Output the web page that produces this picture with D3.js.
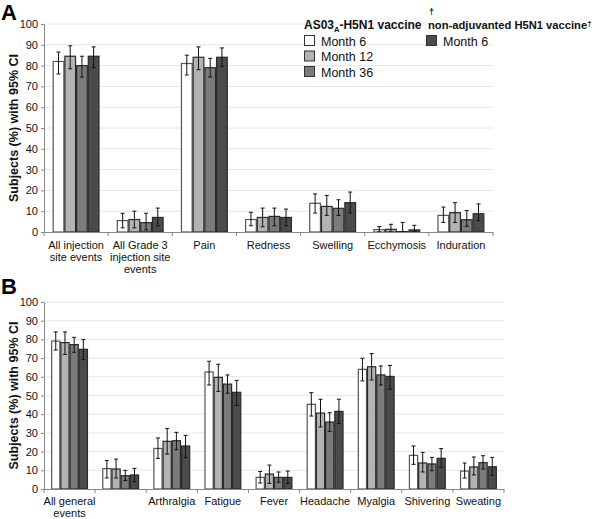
<!DOCTYPE html>
<html><head><meta charset="utf-8">
<script src="https://cdn.jsdelivr.net/npm/d3@7"></script>
<style>body{margin:0;background:#fff;} svg{display:block;font-family:"Liberation Sans",Arial,sans-serif;}</style>
</head><body>
<svg id="c" width="600" height="519"></svg>
<script>
const seriesNames = ["Month 6", "Month 12", "Month 36", "Month 6 (non-adjuvanted)"];
const seriesColors = ["#ffffff", "#b3b3b3", "#7b7b7b", "#4b4b4b"];
const yTicks = [0,10,20,30,40,50,60,70,80,90,100];

const catsA = [["All injection","site events"],["All Grade 3","injection site","events"],["Pain"],["Redness"],["Swelling"],["Ecchymosis"],["Induration"]];
const valA = [
  [82, 84.5, 80, 84.5],
  [5.5, 6, 4.5, 7],
  [81, 84, 79, 84],
  [6, 7, 7.5, 7],
  [13.8, 12.3, 11.4, 14.1],
  [1.1, 1.3, 0.2, 1],
  [8, 9.3, 5.9, 8.8]
];
const loA = [
  [76, 78.5, 74.5, 79],
  [2, 2, 1, 3],
  [75.5, 78, 74.5, 79.5],
  [3, 2.5, 3, 3],
  [9.1, 8, 8, 9.1],
  [0, 0, 0, 0],
  [4.6, 4.6, 2.7, 5.4]
];
const hiA = [
  [86.5, 89.5, 84.5, 89],
  [9, 10, 9, 11.5],
  [85, 89, 83.5, 88.5],
  [9.5, 11.5, 11.5, 11],
  [18.3, 17.6, 15.5, 19.2],
  [2.6, 3.7, 4.6, 3.2],
  [12, 14.1, 10.3, 13.5]
];

const catsB = [["All general","events"],[""],["Arthralgia"],["Fatigue"],["Fever"],["Headache"],["Myalgia"],["Shivering"],["Sweating"]];
const valB = [
  [79.1, 78.3, 77.2, 74.7],
  [10.9, 10.7, 7.1, 7.5],
  [21.7, 25.5, 25.8, 23],
  [62.6, 59.7, 56.1, 51.7],
  [6.2, 8, 6.2, 6.2],
  [45.3, 40.6, 35.8, 41.5],
  [64, 65.4, 61, 60.2],
  [18, 13.9, 13.4, 16.4],
  [9.6, 11.8, 14.1, 11.9]
];
const loB = [
  [74.3, 72, 73.1, 69.2],
  [5.9, 5.9, 4.6, 3.9],
  [16.4, 18.7, 21, 16.9],
  [55.6, 52.2, 51.2, 44.7],
  [3.2, 3, 3.6, 3],
  [39, 33.2, 30.8, 35],
  [57.8, 58.3, 55.6, 53.3],
  [13.2, 9.1, 9.8, 11.6],
  [5.9, 7.5, 10.7, 7.3]
];
const hiB = [
  [84, 84, 81.1, 79.9],
  [15.2, 16, 10, 11],
  [27.3, 32.4, 30.3, 28.7],
  [68.3, 66.7, 61, 58.1],
  [9.4, 12.8, 9.1, 9.6],
  [51.5, 48, 40.8, 48],
  [69.9, 72.4, 65.8, 66.1],
  [23, 19.6, 16.9, 21.6],
  [13.9, 17.1, 17.8, 16.9]
];

const svg = d3.select("#c");

function panel(cfg) {
  const {x0, x1, yTop, yBot, cats, vals, lo, hi, letter, letterY, groupFrac, labOff, labGap} = cfg;
  const g = svg.append("g");
  const x = d3.scaleBand().domain(d3.range(cats.length)).range([x0, x1]).paddingInner(0).paddingOuter(0);
  const inner = d3.scaleBand().domain(d3.range(4)).range([0, x.bandwidth()*groupFrac]);
  const off = x.bandwidth()*(1-groupFrac)/2;
  const y = d3.scaleLinear().domain([0,100]).range([yBot, yTop]);

  g.selectAll(".grid").data(yTicks.slice(1)).join("line")
    .attr("x1", x0).attr("x2", x1).attr("y1", d=>y(d)).attr("y2", d=>y(d))
    .attr("stroke", "#e6e6e6").attr("stroke-width", 1);

  const ya = g.append("g").attr("transform", `translate(${x0},0)`)
    .call(d3.axisLeft(y).tickValues(yTicks).tickSize(3).tickPadding(3));
  ya.select(".domain").attr("stroke", "#888");
  ya.selectAll(".tick line").attr("stroke", "#888");
  ya.selectAll("text").attr("font-size", 11).attr("fill", "#111");

  cats.forEach((c, i) => {
    vals[i].forEach((v, j) => {
      const bx = x(i) + off + inner(j);
      g.append("rect").attr("x", bx+0.5).attr("y", y(v)).attr("width", inner.bandwidth()-1)
        .attr("height", y(0)-y(v)).attr("fill", seriesColors[j])
        .attr("stroke", j===0 ? "#555" : "#2a2a2a").attr("stroke-width", 1.2);
      const cx = bx + inner.bandwidth()/2;
      const cw = 2;
      g.append("path").attr("d",
        `M${cx},${y(lo[i][j])}V${y(hi[i][j])}M${cx-cw},${y(lo[i][j])}H${cx+cw}M${cx-cw},${y(hi[i][j])}H${cx+cw}`)
        .attr("stroke", "#111").attr("stroke-width", 1).attr("fill", "none");
    });
  });

  g.append("line").attr("x1", x0).attr("x2", x1).attr("y1", y(0)+0.5).attr("y2", y(0)+0.5).attr("stroke", "#888");
  g.selectAll(".sep").data(d3.range(cats.length+1)).join("line")
    .attr("x1", d => d<cats.length ? x(d) : x1).attr("x2", d => d<cats.length ? x(d) : x1)
    .attr("y1", y(0)).attr("y2", y(0)+4).attr("stroke", "#888");

  cats.forEach((c, i) => {
    const t = g.append("text").attr("x", x(i)+x.bandwidth()/2).attr("y", y(0)+labOff)
      .attr("text-anchor", "middle").attr("font-size", 11).attr("fill", "#111");
    c.forEach((line, k) => t.append("tspan").attr("x", x(i)+x.bandwidth()/2).attr("dy", k===0?0:labGap).text(line));
  });

  g.append("text").attr("transform", `translate(18,${(yTop+yBot)/2}) rotate(-90)`)
    .attr("text-anchor", "middle").attr("font-weight", "bold").attr("font-size", 12.5).attr("fill", "#111")
    .text("Subjects (%) with 95% CI");

  svg.append("text").attr("x", 1).attr("y", letterY).attr("font-weight", "bold")
    .attr("font-size", 22).attr("fill", "#000").text(letter);
}

panel({x0:44, x1:493, yTop:24, yBot:232, cats:catsA, vals:valA, lo:loA, hi:hiA, letter:"A", letterY:20, groupFrac:0.73, labOff:17, labGap:11.8});
panel({x0:44, x1:504, yTop:302, yBot:489, cats:catsB, vals:valB, lo:loB, hi:hiB, letter:"B", letterY:294, groupFrac:0.72, labOff:16, labGap:11.5});

const lg = svg.append("g");
const t1 = lg.append("text").attr("x", 304).attr("y", 29).attr("font-weight", "bold").attr("font-size", 12).attr("fill", "#111");
t1.append("tspan").text("AS03");
t1.append("tspan").attr("font-size", 7.5).attr("dy", 3).text("A");
t1.append("tspan").attr("dy", -3).text("-H5N1 vaccine");
lg.append("text").attr("x", 429).attr("y", 15).attr("font-weight", "bold").attr("font-size", 9).attr("fill", "#111").text("†");
const t2 = lg.append("text").attr("x", 428).attr("y", 29).attr("font-weight", "bold").attr("font-size", 11.2).attr("fill", "#111");
t2.append("tspan").text("non-adjuvanted H5N1 vaccine");
t2.append("tspan").attr("font-size", 8).attr("dy", -3).text("†");

const legItems = [
  {x:304, y:35, c:0, label:"Month 6"},
  {x:304, y:50.5, c:1, label:"Month 12"},
  {x:304, y:66, c:2, label:"Month 36"},
  {x:426, y:35, c:3, label:"Month 6"}
];
legItems.forEach(d => {
  lg.append("rect").attr("x", d.x+0.5).attr("y", d.y+0.5).attr("width", 10).attr("height", 10)
    .attr("fill", seriesColors[d.c]).attr("stroke", "#333").attr("stroke-width", 1);
  lg.append("text").attr("x", d.x+17).attr("y", d.y+10.5).attr("font-size", 12.5).attr("fill", "#111").text(d.label);
});
</script>
</body></html>
